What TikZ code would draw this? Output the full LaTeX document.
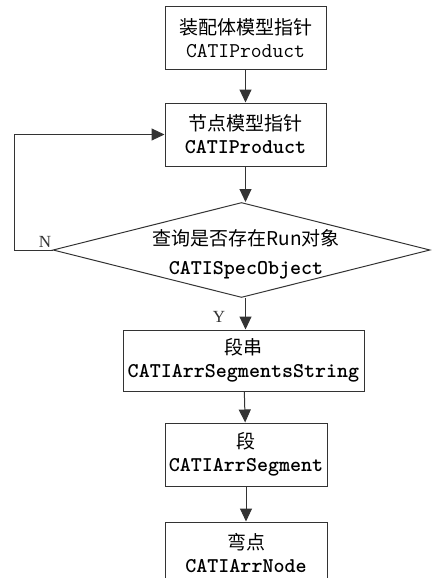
\documentclass[tikz,border=0pt]{standalone}
\usepackage{fontspec}
\setmainfont{Liberation Serif}
\newfontfamily\cjk{Noto Sans CJK SC}
\usetikzlibrary{shapes.geometric,arrows.meta}

\newcommand{\zh}[1]{{\cjk\fontsize{19}{22}\selectfont #1}}

\begin{document}
\begin{tikzpicture}[x=1pt,y=-1pt,
  box/.style={draw=black!80,line width=1pt,align=center,inner sep=0pt,
    minimum width=161pt,minimum height=63pt,font=\fontsize{21}{23}\selectfont},
  decide/.style={draw=black!80,line width=1pt,diamond,aspect=3.97,inner sep=0pt,
    minimum width=377pt,minimum height=95pt},
  flow/.style={draw=black!80,line width=1pt,-{Triangle[width=12pt,length=13pt]}},
  yn/.style={font=\fontsize{17}{17}\selectfont,text=black!80}
]
  \useasboundingbox (0,0) rectangle (432,578);

  \node [box] (asm) at (245.5,38.5) {\zh{装配体模型指针}\\\texttt{CATIProduct}};
  \node [box] (part) at (245.5,134.5) {\zh{节点模型指针}\\\texttt{\bfseries CATIProduct}};
  \node [decide] (run) at (241.5,250) {};
  \node [align=center,font=\fontsize{21}{23}\selectfont] (runtext) at (246,254)
    {\zh{查询是否存在Run对象}\\[6pt]\texttt{\bfseries CATISpecObject}};
  \node [box,minimum width=241pt,minimum height=61pt] (segs) at (243.5,360.5) {\zh{段串}\\\texttt{\bfseries CATIArrSegmentsString}};
  \node [box,minimum width=162pt] (seg) at (246,454.5) {\zh{段}\\\texttt{\bfseries CATIArrSegment}};
  \node [box,minimum width=162pt] (bend) at (246,553.5) {\zh{弯点}\\\texttt{\bfseries CATIArrNode}};

  \coordinate (back) at (14,250);
  \coordinate (up) at (14,134.5);

  \draw [flow] (asm) -- (part);
  \draw [flow] (part) -- (part |- run.north);
  \draw [flow] (part |- run.south) -- (part |- segs.north);
  \draw [flow] (segs) -- (seg);
  \draw [flow] (seg) -- (bend);
  \draw [flow] (run.west) -- (back) -- (up) -- (part.west);

  \node [yn] (no) at (45,242) {N};
  \node [yn] (yes) at (219,317) {Y};
\end{tikzpicture}
\end{document}
